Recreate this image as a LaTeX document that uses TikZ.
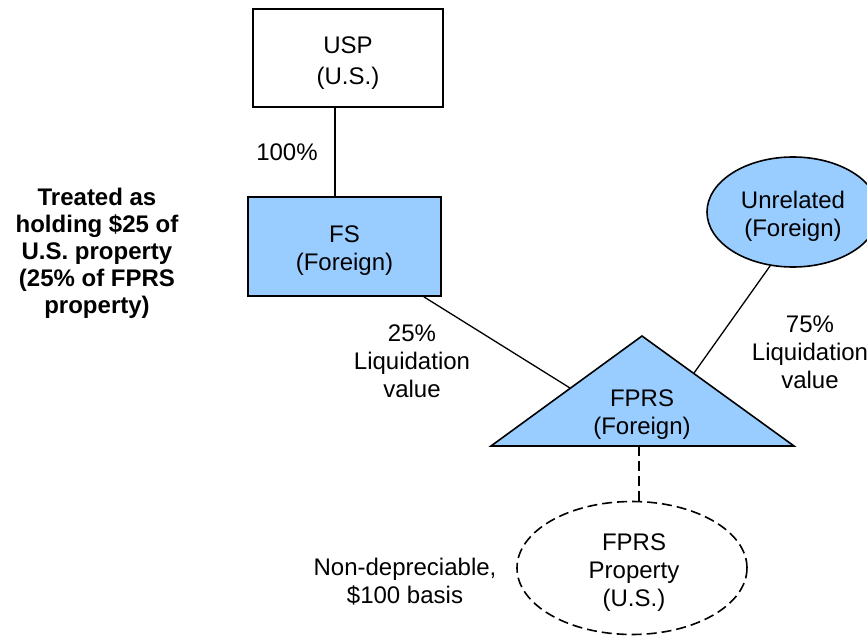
\documentclass[tikz,border=0pt]{standalone}
\usepackage{fontspec}
\setmainfont{Liberation Sans}
\usepackage{xcolor}
\usepackage{tikz}
\usetikzlibrary{shapes.geometric}
\definecolor{entblue}{HTML}{99CCFF}
\tikzset{
  txt/.style={align=center, font=\fontsize{24}{28}\selectfont, inner sep=0pt},
  entity/.style={txt, draw, line width=1.6pt},
  link/.style={line width=1.3pt},
}

\begin{document}
\begin{tikzpicture}[x=1pt, y=-1pt]
    \useasboundingbox (0,0) rectangle (867,636);
    % owners
    \node[entity, minimum width=190, minimum height=98] (usp) at (348,58) {};
    \node[txt, font=\fontsize{24}{31}\selectfont] (usptext) at (348,63) {USP\\(U.S.)};
    \node[entity, fill=entblue, minimum width=193, minimum height=99] (fs) at (344.5,246.5) {};
    \node[txt] (fstext) at (344.5,251) {FS\\(Foreign)};
    \node[entity, ellipse, fill=entblue, minimum width=172, minimum height=110] (unrel) at (793,212) {};
    \node[txt] (unreltext) at (793,216) {Unrelated\\(Foreign)};
    % partnership
    \coordinate (tA) at (642,336);
    \coordinate (tL) at (491,446);
    \coordinate (tR) at (794,446);
    \draw[line width=1.6pt, fill=entblue] (tL) -- (tA) -- (tR) -- cycle;
    \node[txt] (fprs) at (642,415) {FPRS\\(Foreign)};
    \coordinate (fprsL) at (570,388);
    \coordinate (fprsR) at (694,373);
    \coordinate (fprsB) at (639,446);
    % property
    \node[entity, ellipse, dash pattern=on 10pt off 5pt, minimum width=230, minimum height=133] (prop) at (632,568) {};
    \node[txt] (proptext) at (634,573) {FPRS\\Property\\(U.S.)};
    % links
    \draw[link] ([xshift=-13pt]usp.south) -- ([xshift=-9.5pt]fs.north);
    \draw[link] ([xshift=-18pt]fs.south east) -- (fprsL);
    \draw[link] (unrel.247) -- (fprsR);
    \draw[link, dash pattern=on 10pt off 5pt] (fprsB) -- ([xshift=7pt]prop.north);
    % labels
    \node[txt] (l100) at (287,152) {100\%};
    \node[txt] (l25) at (412,361) {25\%\\Liquidation\\value};
    \node[txt] (l75) at (810,352) {75\%\\Liquidation\\value};
    \node[txt] (lbasis) at (405,582) {Non-depreciable,\\\$100 basis};
    \node[txt, font=\fontsize{24}{27}\bfseries] (ltreat) at (97,253) {Treated as\\holding \$25 of\\U.S. property\\(25\% of FPRS\\property)};
\end{tikzpicture}
\end{document}
